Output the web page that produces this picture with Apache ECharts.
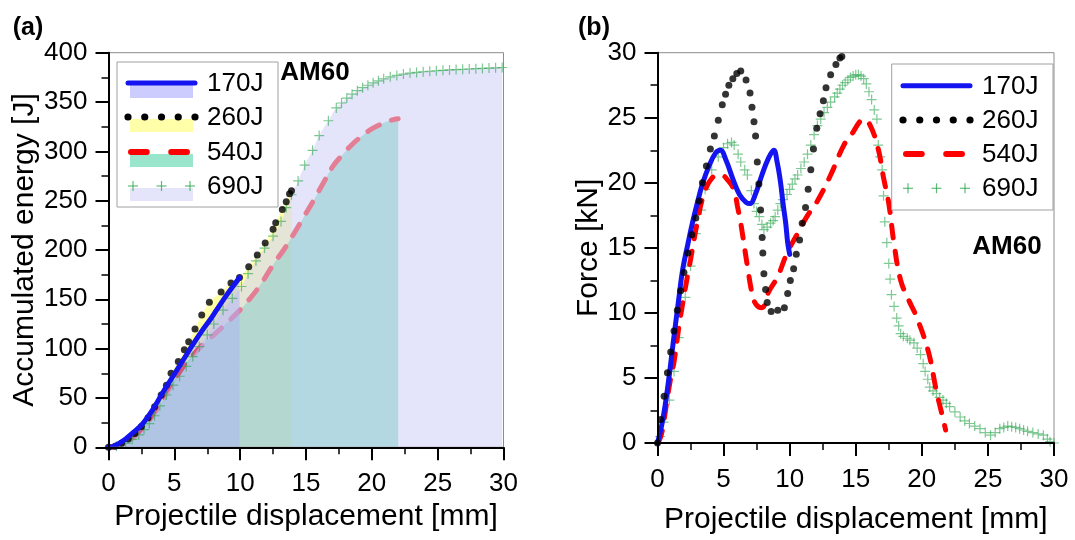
<!DOCTYPE html>
<html>
<head>
<meta charset="utf-8">
<script src="https://cdn.jsdelivr.net/npm/echarts@6/dist/echarts.min.js"></script>
<style>
  html, body { margin: 0; padding: 0; background: #fff; }
  #chart { width: 1075px; height: 540px; }
</style>
</head>
<body>
<div id="chart"></div>
<script>
// Impact tests on AM60 plates: four impact energies
const energies = ['170J', '260J', '540J', '690J'];

// Axis ranges [min, max, interval]
const dispAxis = [0, 30, 5];
const energyAxis = [0, 400, 50];
const forceAxis = [0, 30, 5];

// (a) Accumulated energy [J] vs projectile displacement [mm]
const e170 = [[0,0],[0.4,1],[0.8,4],[1.3,8.5],[1.8,14],[2.6,24],[3.35,38],[4.1,55],[4.9,72],[5.6,87],
  [6.4,104],[7.15,119],[7.7,129],[8.2,139],[8.9,153],[9.5,164],[9.95,172]];
const e260 = [[0,0],[0.5,1],[1,4],[1.5,8.5],[2,14],[2.5,21],[3,30],[3.5,41],[4,53],[4.4,63],[4.75,75],
  [5.3,87],[5.76,99],[6.09,107],[6.57,120],[7.08,134],[7.66,147],[8.55,157.5],[9.3,166.5],[9.95,172],
  [10.65,183],[11.3,195],[11.9,207],[12.5,221],[12.7,227.5],[13.2,241],[13.5,249],[13.75,257],[13.9,260]];
const e540 = [[0,0],[0.5,0.5],[1,2.5],[1.5,6],[2,11],[2.5,18],[3,26],[3.5,35],[4,45],[4.5,57],[4.9,66],
  [5.5,78],[6,87],[6.65,97],[7.3,106],[8,114],[8.9,125],[9.6,134],[10.45,146],[11.5,164],[12.5,185],
  [13.3,200],[14.1,217],[14.9,235],[15.65,252],[16.4,270],[17.05,285],[17.8,297],[18.5,307],[19.2,315],
  [19.9,322],[20.6,327],[21.3,331],[22,333]];
const e690 = [[0,0],[0.6,1],[1.3,4],[1.8,8],[2.3,12.5],[2.7,18],[3.1,24],[3.5,32],[3.9,42],[4.4,53],
  [4.9,63],[5.4,72],[5.9,82],[6.4,92],[6.9,102],[7.5,114],[8.0,125],[8.7,139],[9.4,151],[10.1,163],
  [10.6,176],[11.2,189],[11.85,202],[12.5,214],[13.1,229],[13.5,243],[13.9,256],[14.4,270],[14.9,286],
  [15.5,301],[16.0,316],[16.7,331],[17.3,344],[17.7,349],[18.1,354],[18.5,358],[18.9,361.5],[19.3,364.5],
  [19.7,367],[20.1,369.5],[20.5,371.5],[20.9,373.5],[21.4,375.5],[21.9,377],[22.4,378.3],[22.9,379.3],
  [23.4,380],[23.9,380.7],[24.4,381.2],[24.9,381.7],[25.4,382.1],[25.9,382.5],[26.4,382.9],[26.9,383.2],
  [27.4,383.5],[27.9,383.8],[28.4,384.1],[28.9,384.4],[29.4,384.7],[29.9,385]];

// (b) Force [kN] vs projectile displacement [mm]
const f170 = [[0,0],[0.4,1.8],[0.8,4.5],[1.26,8.3],[1.6,11],[1.9,13.3],[2.3,15.3],[2.64,16.9],[3.0,18.4],
  [3.4,19.9],[3.9,21.3],[4.4,22.3],[4.75,22.5],[5.2,21.7],[5.7,20.3],[6.2,19.1],[6.7,18.5],[7.0,18.4],
  [7.4,19.1],[7.9,20.6],[8.4,21.9],[8.8,22.5],[9.05,21.6],[9.3,20.1],[9.5,18.4],[9.7,16.9],[9.85,15.4],[10.0,14.5]];
const f260 = [[0,0],[0.25,1.8],[0.5,3.6],[0.75,5.4],[1.0,7.0],[1.25,8.6],[1.5,10.2],[1.75,11.7],[2.0,13.1],
  [2.3,14.6],[2.6,16.0],[2.9,17.3],[3.15,18.6],[3.4,20.0],[3.7,21.3],[4.0,22.6],[4.3,23.6],[4.6,24.8],
  [4.9,26.0],[5.15,26.8],[5.4,27.5],[5.7,28.0],[6.0,28.4],[6.3,28.6],[6.7,27.9],[7.0,26.9],[7.15,25.8],
  [7.3,24.7],[7.42,23.6],[7.55,21.6],[7.67,19.9],[7.8,17.9],[7.92,15.8],[7.97,14.6],[8.05,13.0],[8.18,11.8],
  [8.3,10.8],[8.6,10.1],[9.1,10.2],[9.6,10.4],[9.85,11.5],[10.05,12.5],[10.3,13.4],[10.5,14.5],[10.75,15.6],
  [10.95,16.9],[11.2,18.1],[11.4,19.5],[11.6,21.0],[11.8,22.6],[12.05,24.2],[12.3,25.3],[12.55,26.3],
  [12.75,27.3],[13.1,28.3],[13.5,29.1],[13.8,29.6],[13.95,29.7]];
const f540 = [[0,0],[0.25,0.5],[0.5,1.8],[0.75,3.5],[1.0,5],[1.26,6.3],[1.6,8.8],[2.0,11.3],[2.5,14.1],
  [3.0,16.9],[3.5,19.1],[4.15,20.4],[4.8,20.6],[5.4,20.1],[5.8,19.4],[6.05,18.2],[6.3,16.9],[6.8,13.6],
  [7.2,11.3],[7.5,10.6],[7.9,10.4],[8.4,11.6],[9.1,12.8],[9.8,14.6],[10.6,16.1],[11.3,17.4],[12.1,18.6],
  [13.1,20.6],[14.1,22.9],[14.8,23.9],[15.3,24.7],[15.6,24.9],[16.1,24.4],[16.7,22.6],[17.1,20.4],
  [17.5,18.4],[17.9,15.3],[18.4,12.5],[19.0,11.0],[19.6,9.7],[20.5,7.0],[21.1,4.0],[21.5,2.3],[21.8,1.0]];
const f690 = [[0,0],[0.2,0.5],[0.45,1.6],[0.9,3.3],[1.25,5.5],[1.6,8.1],[2.1,11.2],[2.5,13.6],[2.9,16.1],
  [3.3,17.9],[3.6,19.5],[4.1,21.0],[4.6,22.0],[5.0,22.7],[5.3,23.0],[5.6,23.1],[5.8,22.9],[6.1,22.2],
  [6.3,21.6],[6.6,21.0],[6.8,20.6],[7.1,19.4],[7.3,18.4],[7.5,17.8],[7.7,17.4],[7.9,16.8],[8.05,16.4],
  [8.3,16.6],[8.55,16.9],[8.75,17.1],[8.9,17.4],[9.1,17.9],[9.3,18.4],[9.5,18.7],[9.8,19.1],[10.0,19.5],
  [10.2,19.9],[10.4,20.3],[10.6,20.6],[10.85,21.1],[11.1,21.6],[11.35,22.2],[11.6,22.9],[11.85,23.7],
  [12.1,24.4],[12.35,24.9],[12.6,25.4],[12.85,25.8],[13.1,26.2],[13.4,26.6],[13.6,26.9],[13.8,27.2],
  [14.0,27.5],[14.2,27.7],[14.4,27.9],[14.6,28.1],[14.8,28.2],[15.0,28.3],[15.2,28.3],[15.4,28.2],
  [15.6,28.0],[15.8,27.6],[16.0,27.0],[16.2,26.4],[16.4,25.6],[16.6,24.9],[16.7,22.9],[16.85,22.0],
  [17.0,21.0],[17.1,19.0],[17.2,17.0],[17.35,15.4],[17.5,13.8],[17.6,12.6],[17.7,11.4],[17.9,10.5],
  [18.1,9.6],[18.25,9.0],[18.4,8.4],[18.6,8.2],[18.9,8.05],[19.1,7.9],[19.4,7.7],[19.65,7.3],[19.9,6.8],
  [20.1,6.1],[20.25,5.5],[20.45,4.9],[20.6,4.3],[20.85,4.0],[21.1,3.8],[21.35,3.5],[21.6,3.3],[21.85,3.05],
  [22.1,2.8],[22.5,2.4],[22.9,2.0],[23.25,1.7],[23.6,1.5],[24.0,1.3],[24.4,1.1],[24.8,0.8],[25.2,0.6],
  [25.55,0.8],[25.9,1.1],[26.2,1.2],[26.5,1.3],[26.8,1.25],[27.1,1.2],[27.4,1.1],[27.7,1.0],[28.0,0.9],
  [28.4,0.8],[28.8,0.7],[29.2,0.6],[29.5,0.3],[29.7,0.1],[30,0]];

const FONT = "'Liberation Sans', Arial, sans-serif";
const BLUE = '#1414f0';
const RED = '#ff0000';
const GREEN = 'rgba(40,165,75,0.75)';
const FILL = {
  '170J': 'rgba(172,176,248,0.5)',
  '260J': 'rgba(255,255,130,0.7)',
  '540J': 'rgba(0,190,128,0.47)',
  '690J': 'rgba(210,210,247,0.6)'
};
const PATCH = { '170J': '#ccccff', '260J': '#ffffaa', '540J': '#99e6cc', '690J': '#e4e4fa' };
const PLUS = 'path://M4.4,0H5.6V4.4H10V5.6H5.6V10H4.4V5.6H0V4.4H4.4Z';
const SMOOTH = 0.4;

function axisCommon() {
  return {
    type: 'value',
    z: 30,
    axisLine: { show: true, onZero: false, lineStyle: { color: '#000', width: 2 } },
    axisTick: { show: true, inside: false, length: 13, lineStyle: { color: '#000', width: 2 } },
    minorTick: { show: true, splitNumber: 2, length: 7, lineStyle: { color: '#000', width: 1.5 } },
    splitLine: { show: false },
    minorSplitLine: { show: false },
    nameLocation: 'middle',
    nameTextStyle: { color: '#000', fontSize: 30, fontFamily: FONT }
  };
}
function xAxis(gi, gap) {
  return Object.assign(axisCommon(), {
    gridIndex: gi, min: dispAxis[0], max: dispAxis[1], interval: dispAxis[2],
    name: 'Projectile displacement [mm]', nameGap: gap,
    axisLabel: { color: '#000', fontSize: 26, fontFamily: FONT, margin: 24 }
  });
}
function yAxis(gi, range, name, gap) {
  return Object.assign(axisCommon(), {
    gridIndex: gi, min: range[0], max: range[1], interval: range[2],
    name: name, nameGap: gap,
    axisLabel: { color: '#000', fontSize: 26, fontFamily: FONT, margin: 21 }
  });
}

// Each series gets its own z so fills, dashes and markers stack in list order
let zNext = 2;
function fillSeries(gi, data, color) {
  return {
    type: 'line', xAxisIndex: gi, yAxisIndex: gi, data: data, z: zNext++,
    smooth: SMOOTH, showSymbol: false, symbol: 'none',
    lineStyle: { width: 0, opacity: 0 },
    areaStyle: { color: color, opacity: 1 },
    silent: true
  };
}
function curveSeries(gi, data, style) {
  return {
    type: 'line', xAxisIndex: gi, yAxisIndex: gi, data: data, z: zNext++,
    smooth: SMOOTH, showSymbol: false, symbol: 'none',
    lineStyle: style, silent: true
  };
}
function dotSeries(gi, data) {
  return {
    type: 'scatter', xAxisIndex: gi, yAxisIndex: gi, data: data, z: zNext++,
    symbol: 'circle', symbolSize: 7, itemStyle: { color: '#000' }, silent: true
  };
}
function crossSeries(gi, data) {
  return {
    type: 'scatter', xAxisIndex: gi, yAxisIndex: gi, data: data, z: zNext++,
    symbol: PLUS, symbolSize: 10, itemStyle: { color: GREEN }, silent: true
  };
}
const dashStyle = { color: RED, width: 5, type: [13, 13], cap: 'round' };
const solidStyle = { color: BLUE, width: 5, cap: 'round', join: 'round' };

// Legend drawn as graphic elements (line sample, filled patch, label)
function legend(box, rows, lineX, textX, withPatch) {
  const els = [{
    type: 'rect', shape: { x: box[0], y: box[1], width: box[2], height: box[3] },
    style: { fill: '#fff', stroke: '#a0a0a0', lineWidth: 1 }, z: 50
  }];
  energies.forEach((name, i) => {
    const y = rows[i];
    if (withPatch) {
      els.push({ type: 'rect', shape: { x: lineX[0] + 2, y: y + 2, width: lineX[1] - lineX[0] - 4, height: 13 },
        style: { fill: PATCH[name] }, z: 51 });
    }
    if (name === '170J') {
      els.push({ type: 'line', shape: { x1: lineX[0], y1: y, x2: lineX[1], y2: y },
        style: { stroke: BLUE, lineWidth: 5, lineCap: 'round' }, z: 52 });
    } else if (name === '260J') {
      for (let k = 0; k < 5; k++) {
        const cx = lineX[0] + k * (lineX[1] - lineX[0]) / 4;
        els.push({ type: 'circle', shape: { cx: cx, cy: y, r: 3.6 }, style: { fill: '#000' }, z: 52 });
      }
    } else if (name === '540J') {
      const w = lineX[1] - lineX[0];
      [[0, 0.28], [0.6, 0.88]].forEach(seg => {
        els.push({ type: 'line', shape: { x1: lineX[0] + seg[0] * w + 3, y1: y, x2: lineX[0] + seg[1] * w, y2: y },
          style: { stroke: RED, lineWidth: 6, lineCap: 'round' }, z: 52 });
      });
    } else {
      for (let k = 0; k < 3; k++) {
        const cx = lineX[0] + 5 + k * (lineX[1] - lineX[0] - 10) / 2;
        els.push({ type: 'line', shape: { x1: cx - 5, y1: y, x2: cx + 5, y2: y },
          style: { stroke: GREEN, lineWidth: 1.2 }, z: 52 });
        els.push({ type: 'line', shape: { x1: cx, y1: y - 5, x2: cx, y2: y + 5 },
          style: { stroke: GREEN, lineWidth: 1.2 }, z: 52 });
      }
    }
    els.push({ type: 'text', x: textX, y: y + 1,
      style: { text: name, fontSize: 26, fontFamily: FONT, fill: '#000', align: 'left', verticalAlign: 'middle' }, z: 52 });
  });
  return els;
}

function label(text, x, y, size) {
  return { type: 'text', x: x, y: y, z: 60,
    style: { text: text, fontSize: size, fontWeight: 'bold', fontFamily: FONT, fill: '#000',
      align: 'center', verticalAlign: 'middle' } };
}

const chart = echarts.init(document.getElementById('chart'), null, { renderer: 'canvas' });
chart.setOption({
  animation: false,
  backgroundColor: '#fff',
  grid: [
    { left: 108.5, top: 52.7, width: 395, height: 394.6, show: true, borderColor: '#8c8c8c', borderWidth: 1, backgroundColor: 'transparent', z: 25 },
    { left: 657.5, top: 52.7, width: 396.5, height: 397.6, show: true, borderColor: '#8c8c8c', borderWidth: 1, backgroundColor: 'transparent', z: 25 }
  ],
  xAxis: [xAxis(0, 40), xAxis(1, 62)],
  yAxis: [
    yAxis(0, energyAxis, 'Accumulated energy [J]', 64),
    yAxis(1, forceAxis, 'Force [kN]', 53)
  ],
  series: [
    // (a) energy: filled areas layered under and over the curves
    fillSeries(0, e260, FILL['260J']),
    fillSeries(0, e540, FILL['540J']),
    curveSeries(0, e540, dashStyle),
    fillSeries(0, e690, FILL['690J']),
    fillSeries(0, e170, FILL['170J']),
    crossSeries(0, e690),
    dotSeries(0, e260),
    curveSeries(0, e170, solidStyle),
    // (b) force
    crossSeries(1, f690),
    curveSeries(1, f540, dashStyle),
    curveSeries(1, f170, solidStyle),
    dotSeries(1, f260)
  ],
  graphic: [].concat(
    legend([117, 62, 161, 145], [83, 117, 152, 186], [128, 195], 207, true),
    legend([891.7, 64, 161.3, 146], [85.7, 120, 154, 188.3], [903, 970], 982, false),
    [
      label('AM60', 315, 73, 26),
      label('AM60', 1007, 247, 26),
      label('(a)', 28, 28, 25),
      label('(b)', 594, 28, 25)
    ]
  )
});
</script>
</body>
</html>
